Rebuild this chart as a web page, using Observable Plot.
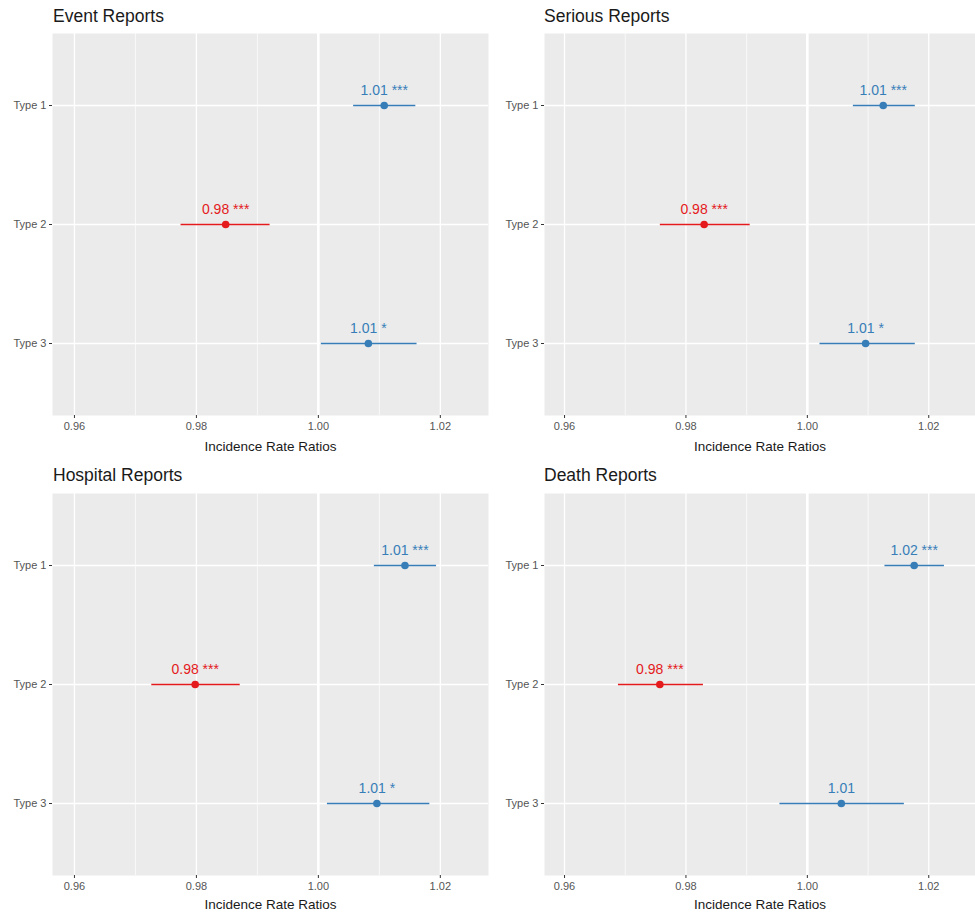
<!DOCTYPE html>
<html>
<head>
<meta charset="utf-8">
<script src="https://cdn.jsdelivr.net/npm/d3@7"></script>
<script src="https://cdn.jsdelivr.net/npm/@observablehq/plot@0.6"></script>
<style>
  html, body { margin: 0; padding: 0; background: #fff; }
  #root { position: relative; width: 975px; height: 913px; overflow: hidden; background: #fff;
          font-family: "Liberation Sans", Arial, sans-serif; }
  .ptitle { position: absolute; font-size: 17.5px; line-height: 17.5px; color: #1a1a1a; white-space: nowrap; }
  .pbox { position: absolute; }
</style>
</head>
<body>
<div id="root"></div>
<script>
// ---- data ----
const types = ["Type 1", "Type 2", "Type 3"];
const panelTitles = ["Event Reports", "Serious Reports", "Hospital Reports", "Death Reports"];
const xTicks = [0.96, 0.98, 1.00, 1.02];
const xMinorTicks = [0.97, 0.99, 1.01];
const axisTitle = "Incidence Rate Ratios";

const eventIRR   = [1.0108, 0.9848, 1.0082];
const eventLow   = [1.0057, 0.9774, 1.0004];
const eventHigh  = [1.0159, 0.9920, 1.0161];
const eventLabel = ["1.01 ***", "0.98 ***", "1.01 *"];

const seriousIRR   = [1.0125, 0.9830, 1.0096];
const seriousLow   = [1.0075, 0.9757, 1.0020];
const seriousHigh  = [1.0177, 0.9905, 1.0177];
const seriousLabel = ["1.01 ***", "0.98 ***", "1.01 *"];

const hospitalIRR   = [1.0142, 0.9798, 1.0096];
const hospitalLow   = [1.0091, 0.9726, 1.0014];
const hospitalHigh  = [1.0193, 0.9871, 1.0182];
const hospitalLabel = ["1.01 ***", "0.98 ***", "1.01 *"];

const deathIRR   = [1.0176, 0.9757, 1.0056];
const deathLow   = [1.0127, 0.9688, 0.9954];
const deathHigh  = [1.0225, 0.9828, 1.0159];
const deathLabel = ["1.02 ***", "0.98 ***", "1.01"];

const effectDomain = ["increase", "decrease"];
const effectColors = ["#377EB8", "#E41A1C"];

// ---- build ----
function rows(irr, low, high, label) {
  return types.map((t, i) => ({
    type: t, irr: irr[i], low: low[i], high: high[i], label: label[i],
    effect: irr[i] > 1 ? "increase" : "decrease"
  }));
}

const panels = [
  { title: panelTitles[0], data: rows(eventIRR, eventLow, eventHigh, eventLabel),
    left: 0, top: 30, width: 490, height: 430, ml: 52, mr: 2, dom: [0.9564, 1.0279], tx: 53, ty: 8.2, ad: 31 },
  { title: panelTitles[1], data: rows(seriousIRR, seriousLow, seriousHigh, seriousLabel),
    left: 487, top: 30, width: 488, height: 430, ml: 57, mr: 0, dom: [0.9567, 1.0277], tx: 544, ty: 8.2, ad: 31 },
  { title: panelTitles[2], data: rows(hospitalIRR, hospitalLow, hospitalHigh, hospitalLabel),
    left: 0, top: 490, width: 490, height: 423, ml: 52, mr: 2, dom: [0.9564, 1.0279], tx: 53, ty: 467.2, ad: 29.5 },
  { title: panelTitles[3], data: rows(deathIRR, deathLow, deathHigh, deathLabel),
    left: 487, top: 490, width: 488, height: 423, ml: 57, mr: 0, dom: [0.9567, 1.0277], tx: 544, ty: 467.2, ad: 29.5 }
];

const root = document.getElementById("root");
const font = "'Liberation Sans', Arial, sans-serif";

for (const p of panels) {
  const t = document.createElement("div");
  t.className = "ptitle";
  t.style.left = p.tx + "px";
  t.style.top = p.ty + "px";
  t.textContent = p.title;
  root.appendChild(t);

  const chart = Plot.plot({
    width: p.width,
    height: p.height,
    marginLeft: p.ml,
    marginRight: p.mr,
    marginTop: 3,
    marginBottom: p.height - 385,
    style: { background: "transparent", fontFamily: font, overflow: "visible" },
    x: { domain: p.dom },
    y: { type: "point", domain: types, padding: 0.6 },
    color: { domain: effectDomain, range: effectColors },
    marks: [
      Plot.frame({ fill: "#EBEBEB", stroke: null }),
      Plot.ruleX(xMinorTicks, { stroke: "#fff", strokeWidth: 0.7 }),
      Plot.ruleX(xTicks, { stroke: "#fff", strokeWidth: 1.3 }),
      Plot.ruleY(types, { y: d => d, stroke: "#fff", strokeWidth: 1.3 }),
      Plot.ruleX([1], { stroke: "#fff", strokeWidth: 2.6 }),
      Plot.link(p.data, { x1: "low", x2: "high", y1: "type", y2: "type", stroke: "effect", strokeWidth: 1.4 }),
      Plot.dot(p.data, { x: "irr", y: "type", r: 3.8, fill: "effect", stroke: null }),
      Plot.text(p.data, { x: "irr", y: "type", text: "label", fill: "effect", fontSize: 14,
                          lineAnchor: "bottom", dy: -11, textAnchor: "middle" }),
      Plot.axisX({ ticks: xTicks, tickFormat: d => d.toFixed(2), tickSize: 3, tickPadding: 4,
                   fontSize: 11, fill: "#555", stroke: "#333", label: null }),
      Plot.axisY({ tickSize: 3, tickPadding: 3, fontSize: 11, fill: "#555", stroke: "#333", label: null }),
      Plot.text([axisTitle], { frameAnchor: "bottom", text: d => d, dy: p.ad, lineAnchor: "middle",
                               textAnchor: "middle", fontSize: 13.5, fill: "#1a1a1a" })
    ]
  });
  const box = document.createElement("div");
  box.className = "pbox";
  box.style.left = p.left + "px";
  box.style.top = p.top + "px";
  box.appendChild(chart);
  root.appendChild(box);
}
</script>
</body>
</html>
